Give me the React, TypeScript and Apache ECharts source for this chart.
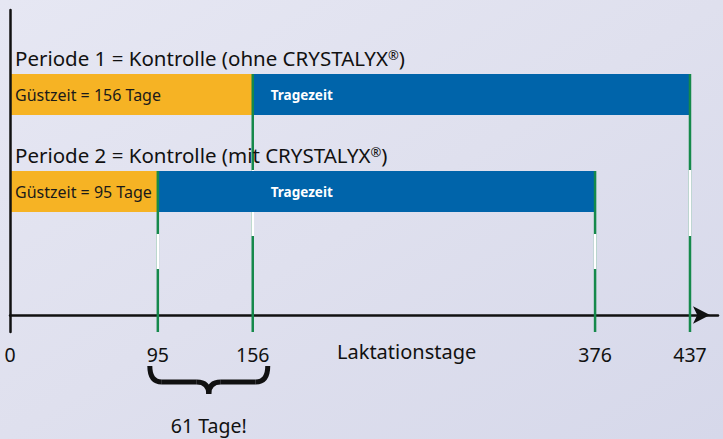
import React, { useEffect, useRef } from "react";
import * as echarts from "echarts";

// ---- data ----
const periodTitles = [
  "Periode 1 = Kontrolle (ohne CRYSTALYX",
  "Periode 2 = Kontrolle (mit CRYSTALYX",
];
const guestDays = [156, 95];
const totalDays = [437, 376];
const tickValues = [0, 95, 156, 376, 437];
const axisName = "Laktationstage";
const restLabel = "Tragezeit";
const diffLabel = "61 Tage!";

// ---- layout (pixels / y-units) ----
const FONT = "Noto Sans";
const BAR_TOP = [241, 144]; // y-axis units (1 unit = 1px, 0 at the x axis)
const BAR_H = 41;
const GAP_TOP = [145, 81];
const GAP_BOTTOM = [79, 46];
const Y_MIN = -17;

const ORANGE = "#f6b324";
const BLUE = "#0064aa";
const GREEN = "#15894b";

export default function App() {
  const ref = useRef<HTMLDivElement>(null);
  useEffect(() => {
    document.body.style.margin = "0";
    const chart = echarts.init(ref.current!, null, { renderer: "svg" });

    const periodData = guestDays.map((g, i) => [i, g, totalDays[i]]);

    const renderPeriod = (params: any, api: any) => {
      const i = api.value(0);
      const g = api.value(1);
      const t = api.value(2);
      const x0 = api.coord([0, 0])[0];
      const xg = api.coord([g, 0])[0];
      const xt = api.coord([t, 0])[0];
      const yTop = api.coord([0, BAR_TOP[i]])[1];
      const yBot = api.coord([0, BAR_TOP[i] - BAR_H])[1];
      const yEnd = api.coord([0, Y_MIN])[1];
      const yGapTop = api.coord([0, GAP_TOP[i]])[1];
      const yGapBot = api.coord([0, GAP_BOTTOM[i]])[1];
      const xRest = api.coord([guestDays[0], 0])[0] + 18;
      const children: any[] = [
        { type: "rect", shape: { x: x0, y: yTop, width: xg - x0, height: yBot - yTop }, style: { fill: ORANGE } },
        { type: "rect", shape: { x: xg, y: yTop, width: xt - xg, height: yBot - yTop }, style: { fill: BLUE } },
      ];
      [xg, xt].forEach((x) => {
        children.push({
          type: "line",
          shape: { x1: x, y1: yTop, x2: x, y2: yEnd },
          style: { stroke: GREEN, lineWidth: 2.5 },
        });
        children.push({
          type: "line",
          shape: { x1: x, y1: yGapTop, x2: x, y2: yGapBot },
          style: { stroke: "#ffffff", lineWidth: 2.5 },
        });
      });
      children.push({
        type: "text",
        x: x0 + 5,
        y: (yTop + yBot) / 2,
        style: {
          text: "Güstzeit = " + g + " Tage",
          fill: "#1a1a1a",
          font: `16px "${FONT}"`,
          verticalAlign: "middle",
          align: "left",
        },
      });
      children.push({
        type: "text",
        x: xRest,
        y: (yTop + yBot) / 2,
        style: {
          text: restLabel,
          fill: "#ffffff",
          font: `bold 13.5px "${FONT}"`,
          verticalAlign: "middle",
          align: "left",
        },
      });
      children.push({
        type: "text",
        x: x0 + 5,
        y: yTop - 16,
        style: {
          text: periodTitles[i] + "{r|®}" + ")",
          rich: {
            r: { fontSize: 13, fontFamily: FONT, fill: "#111", padding: [0, 0, 7, 0] },
          },
          fill: "#111",
          fontSize: 20.5,
          fontFamily: FONT,
          verticalAlign: "middle",
          align: "left",
        },
      });
      return { type: "group", children };
    };

    const renderBrace = (params: any, api: any) => {
      const a = api.coord([api.value(0), 0])[0];
      const b = api.coord([api.value(1), 0])[0];
      const xl = a - 8;
      const xr = b + 15;
      const xm = (xl + xr) / 2;
      const y0 = 366;
      const ym = 382;
      const yc = 394;
      const st = { stroke: "#111", lineWidth: 5, fill: "none" };
      return {
        type: "group",
        children: [
          { type: "bezierCurve", shape: { x1: xl, y1: y0, cpx1: xl, cpy1: ym, x2: xl + 12, y2: ym }, style: st },
          { type: "line", shape: { x1: xl + 12, y1: ym, x2: xm - 12, y2: ym }, style: st },
          { type: "bezierCurve", shape: { x1: xm - 12, y1: ym, cpx1: xm, cpy1: ym, x2: xm, y2: yc }, style: st },
          { type: "bezierCurve", shape: { x1: xm + 12, y1: ym, cpx1: xm, cpy1: ym, x2: xm, y2: yc }, style: st },
          { type: "line", shape: { x1: xm + 12, y1: ym, x2: xr - 12, y2: ym }, style: st },
          { type: "bezierCurve", shape: { x1: xr, y1: y0, cpx1: xr, cpy1: ym, x2: xr - 12, y2: ym }, style: st },
          {
            type: "text",
            x: xm,
            y: 425,
            style: { text: diffLabel, fill: "#111", font: `19.5px "${FONT}"`, align: "center", verticalAlign: "middle" },
          },
        ],
      };
    };

    chart.setOption({
      animation: false,
      backgroundColor: new echarts.graphic.LinearGradient(0, 0, 1, 1, [
        { offset: 0, color: "#e6e7f3" },
        { offset: 0.5, color: "#dfe0ee" },
        { offset: 1, color: "#d6d8ea" },
      ]),
      grid: { left: 10, right: 5, top: 10, bottom: 107 },
      xAxis: {
        type: "value",
        min: 0,
        max: 455,
        z: 0,
        splitLine: { show: false },
        axisTick: { show: false },
        axisLine: {
          onZero: true,
          lineStyle: { color: "#111", width: 2.5 },
          symbol: ["none", "arrow"],
          symbolSize: [13, 17],
          symbolOffset: [0, -8],
        },
        axisLabel: {
          customValues: tickValues,
          color: "#111",
          fontSize: 19.5,
          fontFamily: FONT,
          margin: 12,
        },
      },
      yAxis: {
        type: "value",
        min: Y_MIN,
        max: 305,
        z: 5,
        splitLine: { show: false },
        axisTick: { show: false },
        axisLabel: { show: false },
        axisLine: { show: true, onZero: false, lineStyle: { color: "#111", width: 2.5 } },
      },
      graphic: [
        {
          type: "text",
          left: 337,
          top: 341,
          style: { text: axisName, fill: "#111", font: `20px "${FONT}"` },
        },
      ],
      series: [
        { type: "custom", z: 2, renderItem: renderPeriod, data: periodData, clip: false },
        { type: "custom", z: 2, renderItem: renderBrace, data: [[guestDays[1], guestDays[0]]], clip: false },
      ],
    });
    return () => chart.dispose();
  }, []);
  return <div ref={ref} style={{ width: 723, height: 439, overflow: "hidden" }} />;
}
